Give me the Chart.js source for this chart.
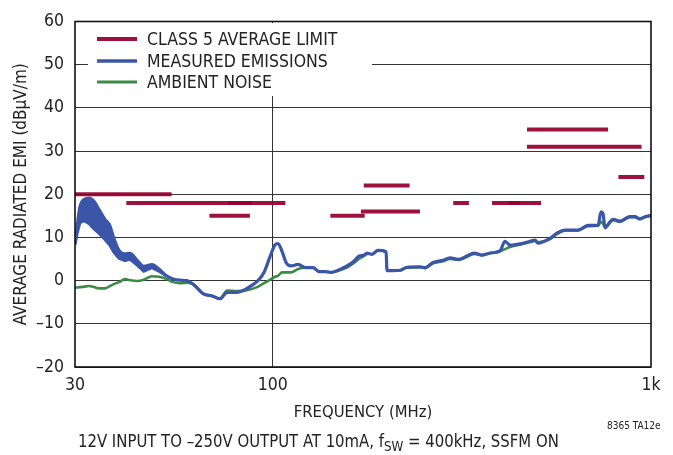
<!DOCTYPE html>
<html><head><meta charset="utf-8">
<script src="https://cdn.jsdelivr.net/npm/chart.js@4.4.0/dist/chart.umd.min.js"></script>
<style>
html,body{margin:0;padding:0;background:#fff;}
#wrap{position:relative;width:673px;height:455px;overflow:hidden;}
canvas{position:absolute;left:0;top:0;}
.cap{position:absolute;font-family:'Liberation Sans Narrow','DejaVu Sans Condensed','Roboto',sans-serif;color:#222;white-space:nowrap;line-height:1;transform-origin:0 0;}
.cap sub{font-size:0.8em;vertical-align:-0.3em;line-height:0;}
</style></head><body>
<div id="wrap"><canvas id="c" width="673" height="455"></canvas>
<div class="cap" id="caption" style="left:78px;top:432px;font-size:18px;transform:scaleX(0.92);">12V INPUT TO –250V OUTPUT AT 10mA, f<sub>SW</sub> = 400kHz, SSFM ON</div>
<div class="cap" id="code" style="left:607px;top:421px;font-size:10px;">8365 TA12e</div>
</div>
<script>
// ---- data ----
const freqMHz = [
  30.0,30.4,30.9,31.7,32.7,33.7,34.7,36.0,37.1,38.0,
  39.2,40.7,41.9,43.8,45.6,47.9,50.0,52.2,54.5,56.9,
  59.3,61.9,65.4,69.5,72.5,75.7,80.4,85.5,90.9,94.8,
  98.3,101.4,103.2,105.8,108.4,111.7,116.6,122.4,127.8,132.5,
  137.5,142.6,147.9,157.1,163.9,169.0,174.3,177.5,182.9,189.7,
  199.3,200.5,208.0,217.0,226.4,245.1,252.7,265.3,281.9,294.2,
  308.8,326.2,340.4,357.4,375.2,398.8,411.2,423.9,450.5,478.8,
  493.6,502.6,540.8,564.3,592.4,641.2,681.4,724.3,737.6,746.6,
  755.8,765.1,793.5,827.9,879.9,907.1,935.1,964.0,1000
];
const measuredEmissions = [
  8.4,12.6,17.0,18.8,19.1,18.3,16.5,14.2,12.7,9.8,
  7.0,6.2,6.3,4.7,3.3,3.7,2.7,1.2,0.4,0.1,
  0.0,-1.0,-3.0,-3.6,-4.2,-2.7,-2.7,-1.8,-0.2,1.9,
  5.5,8.3,8.6,6.8,4.2,3.4,3.75,3.0,3.0,2.1,
  2.1,1.9,2.3,3.4,4.5,5.7,5.9,6.4,6.1,7.0,
  6.7,2.3,2.3,2.4,3.1,3.2,3.0,4.2,4.7,5.3,
  4.9,5.7,6.4,5.9,6.4,6.9,9.1,8.2,8.5,9.1,
  9.4,8.7,9.8,11.0,11.7,11.7,12.8,12.8,15.9,15.5,
  12.2,12.7,14.2,13.8,14.8,14.8,14.3,14.8,15.1
];
const ambientNoise = [
  -1.6,-1.6,-1.5,-1.4,-1.25,-1.5,-1.8,-1.8,-1.25,-0.8,
  -0.35,0.35,0.1,-0.1,0.2,1.0,0.9,0.45,-0.35,-0.6,
  -0.5,-0.9,-3.0,-3.6,-4.2,-2.3,-2.4,-2.2,-1.5,-0.6,
  0.2,0.9,1.1,1.9,1.9,1.9,2.7,3.0,3.0,2.1,
  2.1,1.9,2.2,3.0,4.1,5.0,5.7,6.2,6.1,7.0,
  6.7,2.3,2.3,2.4,3.0,3.1,2.9,4.0,4.5,5.0,
  4.8,5.5,6.2,5.9,6.3,6.8,7.3,7.8,8.3,8.9,
  9.2,8.9,9.6,10.8,11.6,11.6,12.6,12.7,13.6,13.2,
  12.4,12.6,14.0,13.6,14.7,14.7,14.2,14.7,15.0
];
// lower edge of the dense oscillation band of the measured emissions (30–52 MHz)
const bandLower = [8.4,11.0,13.4,13.9,13.2,12.0,11.0,9.5,8.2,6.6,5.2,4.6,5.0,3.6,2.2,3.0,2.2,1.2];
// CISPR 25 class 5 average limit segments
const limitStartMHz = [30, 41, 76, 68, 142, 174, 171, 300, 380, 420, 470, 470, 820];
const limitEndMHz   = [54, 88, 108, 87, 175, 230, 245, 330, 450, 512, 770, 944, 960];
const limitLevel    = [20, 18, 18, 15, 15, 22, 16, 18, 18, 18, 35, 31, 24];
const xTickValues = [30, 100, 1000];
const xTickLabels = ['30', '100', '1k'];
const yTickValues = [-20, -10, 0, 10, 20, 30, 40, 50, 60];
const yTickLabels = ['\u201320', '\u201310', '0', '10', '20', '30', '40', '50', '60'];
const legendLabels = ['CLASS 5 AVERAGE LIMIT', 'MEASURED EMISSIONS', 'AMBIENT NOISE'];

// ---- styles ----
const FONT = "'Liberation Sans Narrow','DejaVu Sans Condensed','Roboto',sans-serif";
const TXT = '#222';
const RED = 'rgba(150,0,45,0.93)';
const BLUE = '#3b55a8';
const GREEN = '#3c8b45';

const pts = (xs, ys) => xs.map((x, i) => ({x: x, y: ys[i]}));
const bandFreq = freqMHz.slice(0, bandLower.length);
const bandUpper = measuredEmissions.slice(0, bandLower.length);

const datasets = [
  {data: pts(freqMHz, measuredEmissions), borderColor: BLUE, borderWidth: 3.2, order: 1, cubicInterpolationMode: 'monotone'},
  {data: pts(bandFreq, bandUpper), borderColor: BLUE, borderWidth: 0, order: 1, cubicInterpolationMode: 'monotone'},
  {data: pts(bandFreq, bandLower), borderColor: BLUE, borderWidth: 3, backgroundColor: BLUE, fill: 1, order: 1},
  {data: pts(freqMHz, ambientNoise), borderColor: GREEN, borderWidth: 2.6, order: 2, cubicInterpolationMode: 'monotone'}
];
limitLevel.forEach((lv, i) => {
  datasets.push({data: [{x: limitStartMHz[i], y: lv}, {x: limitEndMHz[i], y: lv}],
    borderColor: RED, borderWidth: 4, borderCapStyle: 'butt', order: 0});
});

const legendPlugin = {
  id: 'insetLegend',
  beforeDatasetsDraw(chart) {
    const ctx = chart.ctx;
    ctx.save();
    ctx.fillStyle = '#fff';
    ctx.fillRect(88, 23, 284, 73);
    const cols = [RED, BLUE, GREEN];
    const widths = [4, 3.5, 3];
    const ys = [39, 61, 82];
    ctx.font = '17.5px ' + FONT;
    ctx.textBaseline = 'middle';
    legendLabels.forEach((t, i) => {
      ctx.strokeStyle = cols[i];
      ctx.lineWidth = widths[i];
      ctx.beginPath();
      ctx.moveTo(97, ys[i]);
      ctx.lineTo(137, ys[i]);
      ctx.stroke();
      ctx.fillStyle = TXT;
      ctx.fillText(t, 147, ys[i] + 1);
    });
    ctx.restore();
  },
  afterDraw(chart) {
    const a = chart.chartArea, ctx = chart.ctx;
    ctx.save();
    ctx.strokeStyle = '#111';
    ctx.lineWidth = 1.6;
    ctx.strokeRect(a.left, a.top, a.right - a.left, a.bottom - a.top);
    ctx.restore();
  }
};

Chart.defaults.font.family = FONT;
Chart.defaults.color = TXT;

new Chart(document.getElementById('c'), {
  type: 'line',
  data: {datasets: datasets},
  options: {
    responsive: false,
    animation: false,
    devicePixelRatio: 1,
    layout: {padding: {top: 16, right: 22, left: 0, bottom: 0}},
    elements: {point: {radius: 0}, line: {tension: 0}},
    plugins: {legend: {display: false}, tooltip: {enabled: false}},
    scales: {
      x: {
        type: 'logarithmic', min: 30, max: 1000,
        afterBuildTicks(s) { s.ticks = xTickValues.map(v => ({value: v})); },
        afterFit(s) { s.height = 88; },
        ticks: {autoSkip: false, maxRotation: 0, padding: 8, color: TXT, font: {size: 17.5},
          callback(v) { const k = xTickValues.indexOf(v); return k >= 0 ? xTickLabels[k] : ''; }},
        grid: {drawTicks: false, lineWidth: 1,
          color(c) { return c.tick && c.tick.value === 100 ? '#333' : 'rgba(0,0,0,0)'; }},
        border: {display: false},
        title: {display: true, text: 'FREQUENCY (MHz)', color: TXT, font: {size: 16.5}, padding: {bottom: 32}}
      },
      y: {
        min: -20, max: 60,
        afterBuildTicks(s) { s.ticks = yTickValues.map(v => ({value: v})); },
        afterFit(s) { s.width = 75; },
        ticks: {padding: 11, color: TXT, font: {size: 17.5},
          callback(v) { const k = yTickValues.indexOf(v); return k >= 0 ? yTickLabels[k] : ''; }},
        grid: {drawTicks: false, color: '#333', lineWidth: 1},
        border: {display: false},
        title: {display: true, text: 'AVERAGE RADIATED EMI (dBµV/m)', color: TXT, font: {size: 17}, padding: {top: 11}}
      }
    }
  },
  plugins: [legendPlugin]
});
</script>
</body></html>
